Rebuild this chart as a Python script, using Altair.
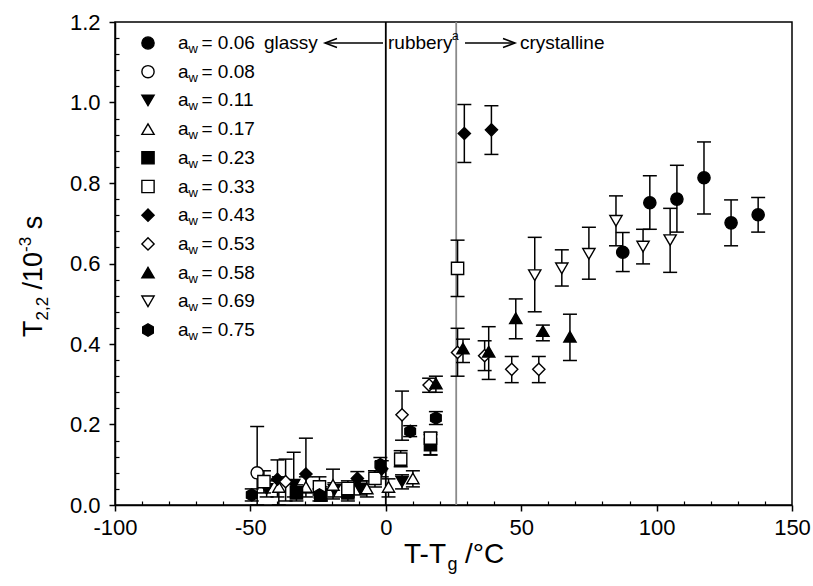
import altair as alt
import pandas as pd

FONT = "Liberation Sans"

aw_labels = ["0.06", "0.08", "0.11", "0.17", "0.23", "0.33", "0.43", "0.53", "0.58", "0.69", "0.75"]
HEX = "M0,-1L0.866,-0.5L0.866,0.5L0,1L-0.866,0.5L-0.866,-0.5Z"
shapes = ["circle", "circle", "triangle-down", "triangle-up", "square", "square",
          "diamond", "diamond", "triangle-up", "triangle-down", HEX]
fills = ["black", "white", "black", "white", "black", "white",
         "black", "white", "black", "white", "black"]
sizes = [150, 150, 140, 140, 110, 110, 150, 150, 140, 140, 140]

# series values: x (T-Tg), y (T2,2), lower and upper error bounds
s006_x = [87.5, 97.5, 107.5, 117.5, 127.5, 137.5]
s006_y = [0.628, 0.751, 0.760, 0.813, 0.701, 0.721]
s006_lo = [0.580, 0.685, 0.678, 0.723, 0.644, 0.678]
s006_hi = [0.677, 0.818, 0.844, 0.902, 0.758, 0.764]

s008_x = [-47.5]
s008_y = [0.080]
s008_lo = [0.0]
s008_hi = [0.195]

s011_x = [-44.0, -34.0, -19.0, -9.5, 6.0]
s011_y = [0.040, 0.050, 0.037, 0.041, 0.058]
s011_lo = [0.020, 0.020, 0.020, 0.025, 0.040]
s011_hi = [0.060, 0.131, 0.055, 0.060, 0.075]

s017_x = [-39.5, -29.5, -19.5, -7.0, 1.0, 10.0]
s017_y = [0.045, 0.045, 0.050, 0.041, 0.045, 0.066]
s017_lo = [0.000, 0.020, 0.015, 0.020, 0.020, 0.045]
s017_hi = [0.070, 0.070, 0.089, 0.060, 0.065, 0.085]

s023_x = [-33.0, -24.0, -14.0, 16.5]
s023_y = [0.030, 0.025, 0.030, 0.150]
s023_lo = [0.010, 0.010, 0.010, 0.125]
s023_hi = [0.050, 0.045, 0.050, 0.175]

s033_x = [-45.0, -24.5, -14.0, -4.0, 5.5, 16.5, 26.5]
s033_y = [0.058, 0.045, 0.041, 0.066, 0.114, 0.166, 0.588]
s033_lo = [0.030, 0.025, 0.020, 0.045, 0.095, 0.124, 0.518]
s033_hi = [0.085, 0.070, 0.060, 0.085, 0.135, 0.180, 0.658]

s043_x = [-40.0, -29.5, -10.5, -1.5, 29.0, 39.0]
s043_y = [0.064, 0.077, 0.066, 0.090, 0.923, 0.932]
s043_lo = [0.020, 0.030, 0.050, 0.070, 0.851, 0.871]
s043_hi = [0.112, 0.166, 0.083, 0.110, 0.995, 0.992]

s053_x = [-37.0, 6.0, 16.0, 26.5, 36.5, 46.5, 56.5]
s053_y = [0.058, 0.224, 0.298, 0.379, 0.371, 0.337, 0.337]
s053_lo = [0.010, 0.161, 0.280, 0.320, 0.334, 0.304, 0.304]
s053_hi = [0.114, 0.283, 0.315, 0.439, 0.408, 0.369, 0.369]

s058_x = [18.5, 28.5, 38.0, 48.0, 58.0, 68.0]
s058_y = [0.302, 0.389, 0.381, 0.464, 0.432, 0.418]
s058_lo = [0.280, 0.354, 0.312, 0.413, 0.408, 0.359]
s058_hi = [0.320, 0.412, 0.443, 0.512, 0.447, 0.474]

s069_x = [55.0, 65.0, 75.0, 85.0, 95.0, 105.0]
s069_y = [0.571, 0.588, 0.624, 0.706, 0.642, 0.658]
s069_lo = [0.480, 0.544, 0.561, 0.644, 0.599, 0.578]
s069_hi = [0.665, 0.634, 0.690, 0.768, 0.685, 0.737]

s075_x = [-49.5, -24.5, -2.0, 9.0, 18.5]
s075_y = [0.025, 0.025, 0.100, 0.183, 0.216]
s075_lo = [0.010, 0.010, 0.085, 0.170, 0.200]
s075_hi = [0.040, 0.040, 0.118, 0.197, 0.232]

series = [
    (s006_x, s006_y, s006_lo, s006_hi), (s008_x, s008_y, s008_lo, s008_hi),
    (s011_x, s011_y, s011_lo, s011_hi), (s017_x, s017_y, s017_lo, s017_hi),
    (s023_x, s023_y, s023_lo, s023_hi), (s033_x, s033_y, s033_lo, s033_hi),
    (s043_x, s043_y, s043_lo, s043_hi), (s053_x, s053_y, s053_lo, s053_hi),
    (s058_x, s058_y, s058_lo, s058_hi), (s069_x, s069_y, s069_lo, s069_hi),
    (s075_x, s075_y, s075_lo, s075_hi),
]

rows = []
for lab, (xs, ys, los, his) in zip(aw_labels, series):
    for a, b, c, d in zip(xs, ys, los, his):
        rows.append({"aw": lab, "x": a, "y": b, "lo": c, "hi": d})
df = pd.DataFrame(rows)

x_major_ticks = [-100, -50, 0, 50, 100, 150]
x_minor_ticks = [-90, -80, -70, -60, -40, -30, -20, -10, 10, 20, 30, 40,
                 60, 70, 80, 90, 110, 120, 130, 140]
y_major_ticks = [0.0, 0.2, 0.4, 0.6, 0.8, 1.0, 1.2]
y_minor_ticks = [0.04, 0.08, 0.12, 0.16, 0.24, 0.28, 0.32, 0.36, 0.44, 0.48, 0.52, 0.56,
                 0.64, 0.68, 0.72, 0.76, 0.84, 0.88, 0.92, 0.96, 1.04, 1.08, 1.12, 1.16]
vlines = [0, 26]
vline_colors = ["black", "#8a8a8a"]

XS = alt.Scale(domain=[-100, 150], nice=False, zero=False)
YS = alt.Scale(domain=[0, 1.2], nice=False, zero=False)
shape_scale = alt.Scale(domain=aw_labels, range=shapes)
fill_scale = alt.Scale(domain=aw_labels, range=fills)
size_scale = alt.Scale(domain=aw_labels, range=sizes)

x_major = alt.Axis(values=x_major_ticks, format="d", title=None, orient="bottom",
                   labelExpr="replace(datum.label, '\u2212', '-')",
                   tickSize=6, tickWidth=1.5, tickColor="black", domainColor="black",
                   domainWidth=1.5, labelFontSize=22, labelFont=FONT, labelColor="black",
                   labelPadding=6, grid=False, labelFlush=False)
y_major = alt.Axis(values=y_major_ticks, format=".1f", title=None, orient="left",
                   tickSize=6, tickWidth=1.5, tickColor="black", domainColor="black",
                   domainWidth=1.5, labelFontSize=22, labelFont=FONT, labelColor="black",
                   labelPadding=9, grid=False, labelFlush=False)
x_minor = alt.Axis(values=x_minor_ticks, title=None, orient="bottom", offset=-4,
                   tickSize=4, tickWidth=1.2, tickColor="black", labels=False,
                   domain=False, grid=False)
y_minor = alt.Axis(values=y_minor_ticks, title=None, orient="left", offset=-4,
                   tickSize=4, tickWidth=1.2, tickColor="black", labels=False,
                   domain=False, grid=False)

base = alt.Chart(df)

vl_df = pd.DataFrame({"x": vlines, "c": vline_colors})
vrules = alt.Chart(vl_df).mark_rule(strokeWidth=1.8).encode(
    x=alt.X("x:Q", scale=XS, axis=None),
    color=alt.Color("c:N", scale=None),
)

err = base.mark_rule(strokeWidth=1.5, color="black").encode(
    x=alt.X("x:Q", scale=XS, axis=None),
    y=alt.Y("lo:Q", scale=YS, axis=None),
    y2="hi:Q",
)
cap_lo = base.mark_tick(orient="horizontal", size=14, thickness=1.5, color="black", opacity=1).encode(
    x=alt.X("x:Q", scale=XS, axis=x_minor),
    y=alt.Y("lo:Q", scale=YS, axis=y_minor),
)
cap_hi = base.mark_tick(orient="horizontal", size=14, thickness=1.5, color="black", opacity=1).encode(
    x=alt.X("x:Q", scale=XS, axis=None),
    y=alt.Y("hi:Q", scale=YS, axis=None),
)
pts = base.mark_point(filled=True, opacity=1, stroke="black", strokeWidth=1.4).encode(
    x=alt.X("x:Q", scale=XS, axis=x_major),
    y=alt.Y("y:Q", scale=YS, axis=y_major),
    shape=alt.Shape("aw:N", scale=shape_scale, legend=None),
    fill=alt.Fill("aw:N", scale=fill_scale, legend=None),
    size=alt.Size("aw:N", scale=size_scale, legend=None),
)

main = alt.layer(vrules, err, cap_lo, cap_hi, pts).resolve_axis(x="independent", y="independent")

# custom legend (inside plot, top-left)
leg_df = pd.DataFrame({"aw": aw_labels, "lab": ["= " + a for a in aw_labels]})
leg_base = alt.Chart(leg_df).encode(
    y=alt.Y("aw:N", scale=alt.Scale(type="point", domain=aw_labels, range=[21, 308], padding=0), axis=None)
)
leg_sym = leg_base.mark_point(filled=True, opacity=1, stroke="black", strokeWidth=1.4).encode(
    x=alt.value(33),
    shape=alt.Shape("aw:N", scale=shape_scale, legend=None),
    fill=alt.Fill("aw:N", scale=fill_scale, legend=None),
    size=alt.Size("aw:N", scale=size_scale, legend=None),
)
leg_a = leg_base.mark_text(text="a", align="left", baseline="middle", fontSize=19, font=FONT, color="black").encode(x=alt.value(63))
leg_w = leg_base.mark_text(text="w", align="left", baseline="middle", fontSize=13, font=FONT, color="black", dx=10.6, dy=6).encode(x=alt.value(63))
leg_v = leg_base.mark_text(align="left", baseline="middle", fontSize=19, font=FONT, color="black", dx=23.5).encode(x=alt.value(63), text="lab:N")

one = pd.DataFrame({"k": [0]})
def txt(s, x, y, size=19, dx=0, dy=0, angle=0, baseline="middle"):
    kw = dict(text=s, align="left", baseline=baseline, fontSize=size, font=FONT, color="black", dx=dx, dy=dy)
    if angle:
        kw["angle"] = angle
    return alt.Chart(one).mark_text(**kw).encode(x=alt.value(x), y=alt.value(y))

ann = [
    txt("glassy", 149, 21),
    alt.Chart(one).mark_rule(color="black", strokeWidth=1.5).encode(x=alt.value(210), x2=alt.value(268), y=alt.value(21)),
    alt.Chart(one).mark_point(shape="M1,-0.75L-1,0L1,0.75", filled=False, size=144, strokeWidth=1.5, color="black", opacity=1).encode(x=alt.value(216), y=alt.value(21)),
    txt("rubbery", 273, 21),
    txt("a", 273, 21, size=12, dx=64, dy=-7),
    alt.Chart(one).mark_rule(color="black", strokeWidth=1.5).encode(x=alt.value(350), x2=alt.value(400), y=alt.value(21)),
    alt.Chart(one).mark_point(shape="M-1,-0.75L1,0L-1,0.75", filled=False, size=144, strokeWidth=1.5, color="black", opacity=1).encode(x=alt.value(394), y=alt.value(21)),
    txt("crystalline", 405, 21),
    # x title: T-Tg /°C
    txt("T-T", 289, 541, size=28, baseline="alphabetic"),
    txt("g", 289, 541, size=18, dx=43.5, dy=7, baseline="alphabetic"),
    txt("/°C", 289, 541, size=28, dx=61, baseline="alphabetic"),
    # y title: T2,2 /10-3 s (rotated)
    txt("T", -73, 315, size=27, angle=270, baseline="alphabetic"),
    txt("2,2", -73, 315, size=17, dx=16.5, dy=6, angle=270, baseline="alphabetic"),
    txt("/10", -73, 315, size=27, dx=47.6, angle=270, baseline="alphabetic"),
    txt("-3", -73, 315, size=17, dx=85.1, dy=-11, angle=270, baseline="alphabetic"),
    txt("s", -73, 315, size=27, dx=107.7, angle=270, baseline="alphabetic"),
]

chart = alt.layer(main, leg_sym, leg_a, leg_w, leg_v, *ann).resolve_scale(
    y="independent"
).properties(
    width=677, height=483,
    padding={"left": 115, "top": 22, "right": 21, "bottom": 81},
    autosize=alt.AutoSizeParams(type="none"),
).configure_view(stroke="black", strokeWidth=1.5)

chart.save("out.html", embed_options={"renderer": "svg", "actions": False})
